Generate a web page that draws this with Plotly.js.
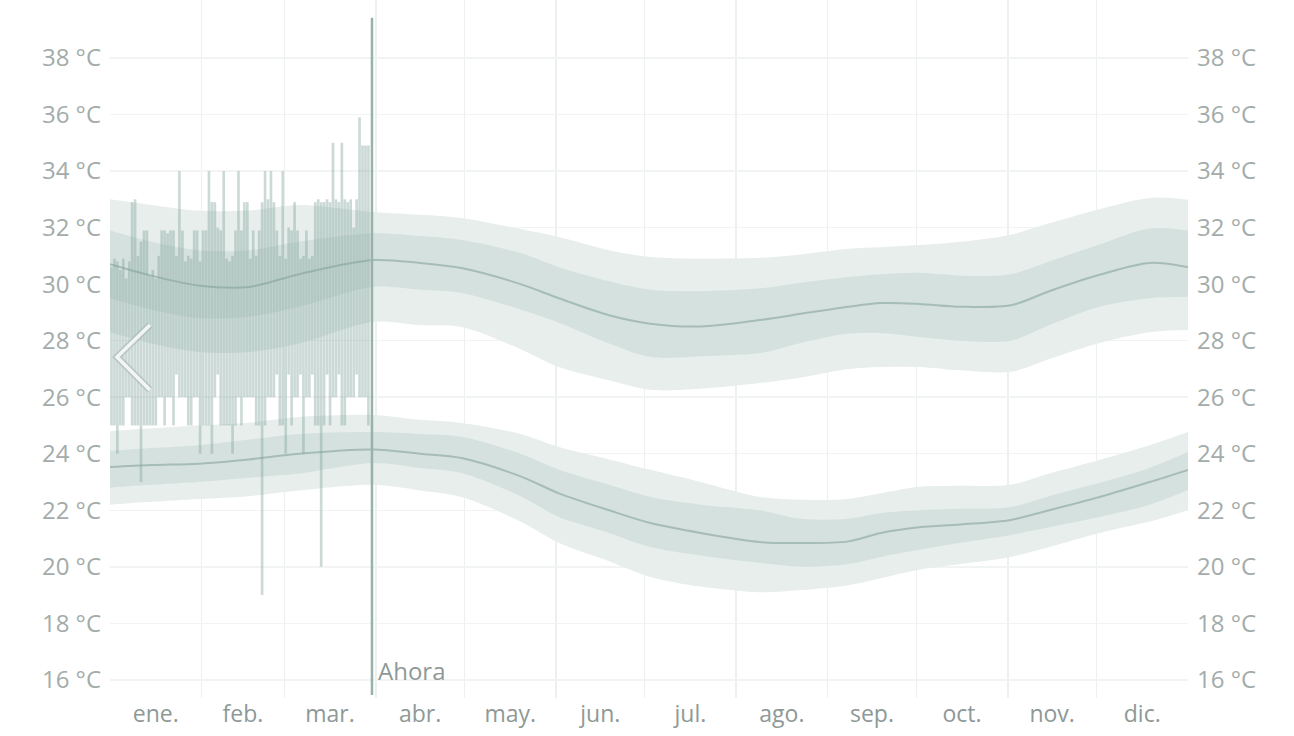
<!DOCTYPE html>
<html>
<head>
<meta charset="utf-8">
<script src="https://cdn.plot.ly/plotly-3.0.1.min.js"></script>
<style>
  html, body { margin: 0; padding: 0; background: #ffffff; }
  #chart { width: 1294px; height: 736px; }
</style>
</head>
<body>
<div id="chart"></div>
<script>
// ---------- categories / ticks ----------
const monthLabels = ['ene.', 'feb.', 'mar.', 'abr.', 'may.', 'jun.', 'jul.', 'ago.', 'sep.', 'oct.', 'nov.', 'dic.'];
const monthStarts = [0, 31, 59, 90, 120, 151, 181, 212, 243, 273, 304, 334, 365];
const tempTicks = [16, 18, 20, 22, 24, 26, 28, 30, 32, 34, 36, 38];
const tempTickText = ['16 °C', '18 °C', '20 °C', '22 °C', '24 °C', '26 °C', '28 °C', '30 °C', '32 °C', '34 °C', '36 °C', '38 °C'];
const nowDay = 88.7;
const nowLabel = 'Ahora';

// ---------- climatological bands (day of year) ----------
const bandDays = [0, 14, 30, 47, 64, 89, 105, 119, 139, 152, 169, 183, 200, 220, 234, 250, 261, 274, 288, 305, 318, 335, 352, 365];

const hiP90 = [33.0, 32.8, 32.6, 32.6, 32.8, 32.55, 32.45, 32.34, 31.95, 31.67, 31.2, 30.96, 30.9, 30.93, 31.05, 31.25, 31.3, 31.38, 31.5, 31.75, 32.15, 32.65, 33.05, 32.98];
const hiP75 = [31.9, 31.5, 31.2, 31.2, 31.5, 31.8, 31.7, 31.56, 31.1, 30.6, 30.1, 29.8, 29.75, 29.85, 30.05, 30.25, 30.35, 30.4, 30.3, 30.35, 30.8, 31.4, 31.97, 31.9];
const hiMed = [30.7, 30.3, 29.95, 29.9, 30.35, 30.85, 30.75, 30.57, 30.0, 29.5, 28.9, 28.6, 28.5, 28.73, 28.95, 29.2, 29.33, 29.3, 29.2, 29.25, 29.75, 30.33, 30.75, 30.6];
const hiP25 = [29.5, 29.1, 28.8, 28.85, 29.2, 29.9, 29.8, 29.69, 29.1, 28.63, 27.9, 27.42, 27.45, 27.56, 27.92, 28.25, 28.27, 28.13, 28.0, 28.0, 28.55, 29.2, 29.5, 29.55];
const hiP10 = [28.3, 27.9, 27.6, 27.6, 27.9, 28.66, 28.55, 28.48, 27.7, 27.07, 26.6, 26.26, 26.3, 26.5, 26.7, 27.0, 27.07, 27.07, 26.95, 26.9, 27.35, 27.92, 28.3, 28.38];

const loP90 = [24.8, 24.9, 25.0, 25.1, 25.3, 25.37, 25.2, 25.09, 24.7, 24.24, 23.8, 23.43, 23.0, 22.47, 22.37, 22.4, 22.6, 22.83, 22.87, 22.9, 23.3, 23.78, 24.3, 24.77];
const loP75 = [24.1, 24.2, 24.3, 24.5, 24.7, 24.77, 24.7, 24.6, 24.0, 23.43, 22.9, 22.47, 22.2, 22.0, 21.7, 21.7, 21.9, 22.0, 22.05, 22.12, 22.5, 22.97, 23.5, 24.06];
const loMed = [23.53, 23.6, 23.65, 23.8, 24.0, 24.15, 24.0, 23.85, 23.2, 22.6, 22.0, 21.55, 21.2, 20.88, 20.84, 20.9, 21.2, 21.4, 21.5, 21.66, 22.0, 22.47, 23.0, 23.43];
const loP25 = [22.8, 22.9, 23.0, 23.15, 23.3, 23.67, 23.5, 23.32, 22.5, 21.76, 21.2, 20.7, 20.4, 20.14, 20.0, 20.1, 20.35, 20.6, 20.85, 21.13, 21.4, 21.76, 22.2, 22.72];
const loP10 = [22.2, 22.3, 22.4, 22.5, 22.7, 22.9, 22.7, 22.47, 21.6, 20.84, 20.2, 19.64, 19.3, 19.1, 19.18, 19.35, 19.6, 19.9, 20.1, 20.35, 20.7, 21.2, 21.6, 22.0];

// ---------- observed daily values, 1 Jan onwards ----------
const obsHigh = [
  30.6, 30.9, 30.8, 30.5, 30.9, 30.2, 30.8, 32.9, 33.0, 31.0,
  31.5, 31.9, 31.9, 30.3, 30.5, 30.2, 31.0, 31.9, 31.9, 31.8,
  31.9, 31.9, 31.0, 34.0, 31.9, 30.8, 31.0, 30.9, 31.9, 31.9,
  30.8, 31.9, 31.9, 34.0, 32.9, 32.9, 32.0, 31.9, 34.0, 30.9,
  30.8, 31.0, 31.9, 34.0, 31.9, 32.9, 32.9, 30.9, 31.9, 31.0,
  31.9, 32.9, 34.0, 33.0, 34.0, 32.9, 31.9, 31.0, 34.0, 30.9,
  32.0, 31.9, 32.9, 31.9, 30.9, 31.0, 31.9, 30.9, 31.0, 32.9,
  33.0, 32.9, 32.9, 33.0, 32.9, 35.0, 33.0, 32.9, 35.0, 33.0,
  32.9, 33.0, 32.0, 33.0, 35.9, 34.9, 34.9, 34.9
];
const obsLow = [
  25.0, 25.0, 24.0, 25.0, 25.0, 26.0, 26.0, 25.0, 25.0, 25.0,
  23.0, 25.0, 25.0, 25.0, 25.0, 25.0, 26.0, 26.0, 25.0, 26.0,
  26.0, 25.0, 26.8, 26.0, 26.0, 26.0, 25.0, 25.0, 26.0, 26.0,
  24.0, 25.0, 25.0, 25.0, 24.0, 26.0, 26.8, 25.0, 25.0, 25.0,
  25.0, 24.0, 25.0, 26.0, 25.0, 26.0, 26.0, 26.0, 26.0, 25.0,
  25.0, 19.0, 25.0, 26.0, 26.0, 26.0, 26.8, 25.0, 25.0, 24.0,
  26.8, 25.0, 26.0, 26.0, 26.8, 24.0, 26.0, 26.0, 26.8, 25.0,
  25.0, 20.0, 25.0, 26.8, 25.0, 26.0, 26.0, 26.8, 25.0, 25.0,
  26.0, 26.0, 26.0, 26.8, 26.0, 26.0, 26.0, 25.0
];

// ---------- styling ----------
const outerFill = '#e7eeec';
const innerFill = '#d5e1de';
const medColor = '#a6bcb6';
const barColor = 'rgba(128,163,155,0.40)';
const tickColor = '#a3acaa';
const fontFam = '"Open Sans", "Noto Sans", sans-serif';

function bandTrace(y, fill, fillcolor) {
  return {
    type: 'scatter', mode: 'lines', x: bandDays, y: y,
    line: { width: 0, shape: 'spline', smoothing: 0.9, color: 'rgba(0,0,0,0)' },
    fill: fill, fillcolor: fillcolor, hoverinfo: 'skip', showlegend: false
  };
}
function medTrace(y) {
  return {
    type: 'scatter', mode: 'lines', x: bandDays, y: y,
    line: { width: 2, shape: 'spline', smoothing: 0.9, color: medColor },
    hoverinfo: 'skip', showlegend: false
  };
}

const obsDays = obsHigh.map((_, i) => i + 0.5);
const obsSpan = obsHigh.map((h, i) => h - obsLow[i]);

const traces = [
  bandTrace(hiP10, 'none'), bandTrace(hiP90, 'tonexty', outerFill),
  bandTrace(hiP25, 'none'), bandTrace(hiP75, 'tonexty', innerFill),
  medTrace(hiMed),
  bandTrace(loP10, 'none'), bandTrace(loP90, 'tonexty', outerFill),
  bandTrace(loP25, 'none'), bandTrace(loP75, 'tonexty', innerFill),
  medTrace(loMed),
  {
    type: 'bar', x: obsDays, y: obsSpan, base: obsLow, width: 0.9,
    marker: { color: barColor, line: { width: 0 } },
    xaxis: 'x', yaxis: 'y2', hoverinfo: 'skip', showlegend: false
  }
];

const monthMids = monthLabels.map((_, i) => (monthStarts[i] + monthStarts[i + 1]) / 2);

const yCommon = {
  range: [15.36, 40.05], tickmode: 'array', tickvals: tempTicks, ticktext: tempTickText,
  tickfont: { family: fontFam, size: 24, color: tickColor },
  zeroline: false, showline: false, ticks: '', fixedrange: true
};

const layout = {
  width: 1294, height: 736,
  margin: { l: 110, r: 106, t: 0, b: 38 },
  paper_bgcolor: '#ffffff', plot_bgcolor: '#ffffff',
  showlegend: false, hovermode: false,
  font: { family: fontFam, color: tickColor },
  xaxis: {
    range: [0, 365], tickmode: 'array', tickvals: monthMids, ticktext: monthLabels,
    tickfont: { family: fontFam, size: 23, color: '#8e9997' },
    showgrid: false, zeroline: false, showline: false, ticks: '',
    minor: { tickmode: 'array', tickvals: monthStarts, showgrid: true, gridcolor: '#edf0f0', gridwidth: 1.5, ticks: '' },
    fixedrange: true
  },
  yaxis: Object.assign({}, yCommon, { side: 'left', showgrid: true, gridcolor: '#f2f4f4', gridwidth: 1.5, ticklabelstandoff: 8 }),
  yaxis2: Object.assign({}, yCommon, { side: 'right', overlaying: 'y', matches: 'y', showgrid: false, ticklabelstandoff: 8 }),
  shapes: [
    { type: 'line', xref: 'x', yref: 'y', x0: nowDay, x1: nowDay, y0: 15.47, y1: 39.42,
      line: { color: '#98b1aa', width: 2.5 }, layer: 'above' },
    { type: 'path', xref: 'paper', yref: 'paper',
      path: 'M 0.0371 0.5344 L 0.0065 0.4885 L 0.0371 0.4413',
      line: { color: 'rgba(170,185,182,0.6)', width: 7 }, layer: 'above' },
    { type: 'path', xref: 'paper', yref: 'paper',
      path: 'M 0.0371 0.5344 L 0.0065 0.4885 L 0.0371 0.4413',
      line: { color: 'rgba(245,248,248,0.95)', width: 3.5 }, layer: 'above' }
  ],
  annotations: [
    { x: nowDay, y: 16.35, xref: 'x', yref: 'y', text: nowLabel, showarrow: false,
      xanchor: 'left', yanchor: 'middle', xshift: 4,
      font: { family: fontFam, size: 24, color: '#8e9997' } }
  ]
};

Plotly.newPlot('chart', traces, layout, { staticPlot: true, displayModeBar: false });
</script>
</body>
</html>
